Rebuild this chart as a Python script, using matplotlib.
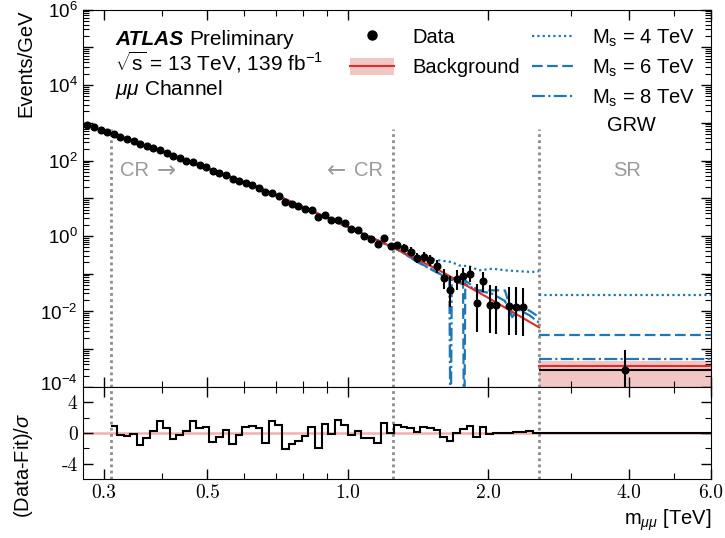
import numpy as np
import matplotlib.pyplot as plt
from matplotlib.lines import Line2D
from matplotlib.patches import Patch
from matplotlib.ticker import NullFormatter
from matplotlib.transforms import ScaledTranslation

plt.rcParams['font.family'] = ['Liberation Sans', 'DejaVu Sans']
plt.rcParams['mathtext.fontset'] = 'custom'
plt.rcParams['mathtext.rm'] = 'Liberation Sans'
plt.rcParams['mathtext.it'] = 'Liberation Sans:italic'
plt.rcParams['mathtext.bf'] = 'Liberation Sans:bold'

# ---- binning (TeV): 4 side bins below the CR + 65 log bins from 0.31 to 2.57
cr_lo, cr_hi, n_cr, n_below = 0.31, 2.57, 65, 4
cr_mid = 1.25
sr_edges = [2.57, 6.0]

# ---- data, Events/GeV per bin (nan = empty bin)
nan = np.nan
data_density = [870, 775, 630, 575,
                496, 426, 370, 323, 272, 239, 210, 186, 157, 131,
                114, 99.8, 89.5, 75.5, 65.3, 52.8, 46.2, 41.1, 32.6, 29.1,
                26.0, 22.3, 18.8, 14.3, 14.2, 11.7, 7.98, 7.03, 6.05, 5.33,
                4.94, 3.11, 3.61, 2.65, 2.67, 2.25, 1.58, 1.41, 1.00, 0.83,
                0.60, 0.87, 0.54, 0.575, 0.490, 0.384, 0.262, 0.275, 0.225, 0.158,
                0.0766, 0.0371, 0.0718, 0.0870, 0.101, 0.0163, 0.0631, 0.0153, 0.0148, nan,
                0.0139, 0.0134, 0.0130, nan, nan]
# error bar ends for the last 25 bins (the rest are hidden by the markers)
err_lo = [0.48, 0.72, 0.43, 0.46, 0.389, 0.291, 0.188, 0.199, 0.157, 0.103,
          0.040, 0.0132, 0.0375, 0.0494, 0.0609, 0.00282, 0.0330, 0.00264, 0.00256, nan,
          0.00240, 0.00232, 0.00224, nan, nan]
err_hi = [0.74, 1.03, 0.67, 0.70, 0.620, 0.499, 0.360, 0.374, 0.315, 0.236,
          0.137, 0.0861, 0.1286, 0.1458, 0.1613, 0.0537, 0.1129, 0.0504, 0.0488, nan,
          0.0457, 0.0442, 0.0428, nan, nan]

# ---- background fit
bkg_mass = [0.31, 0.40, 0.50, 0.566, 0.65, 0.80, 0.963, 1.25, 1.57, 2.00, 2.57]
bkg_val = [520, 174, 62, 35.4, 18.2, 5.9, 2.13, 0.50, 0.123, 0.0229, 3.78e-3]

# ---- GRW signal + background above 1.3 TeV (follows background below)
sig4_mass = [1.30, 1.37, 1.45, 1.57, 1.67, 1.73, 1.82, 1.91, 2.04, 2.18, 2.32, 2.48, 2.57]
sig4_val = [0.389, 0.316, 0.269, 0.226, 0.204, 0.166, 0.158, 0.123, 0.136, 0.123, 0.117, 0.111, 0.117]
sig6_mass = [1.30, 1.40, 1.50, 1.60, 1.70, 1.765, 1.775, 1.785, 1.90, 2.03, 2.17, 2.25, 2.32, 2.45, 2.57]
sig6_val = [0.389, 0.219, 0.138, 0.0891, 0.0631, 0.0525, 1e-6, 0.0661, 0.0363, 0.0363, 0.0363,
            0.00891, 0.0141, 0.0105, 0.00708]
sig8_mass = [1.30, 1.40, 1.50, 1.60, 1.65, 1.66, 1.67, 1.80, 1.90, 2.03, 2.17, 2.25, 2.32, 2.45, 2.57]
sig8_val = [0.389, 0.214, 0.135, 0.0891, 0.0759, 1e-6, 0.0708, 0.0501, 0.0355, 0.0302, 0.0191,
            0.00708, 0.0112, 0.00794, 0.00501]

# ---- signal region (single bin 2.57-6 TeV)
sr_data, sr_data_lo, sr_data_hi = 2.9e-4, 5.0e-5, 9.6e-4
sr_bkg, sr_bkg_lo, sr_bkg_hi = 3.5e-4, 5.0e-5, 5.0e-4
sr_sig = {4: 2.72e-2, 6: 2.43e-3, 8: 5.46e-4}

# ---- (Data-Fit)/sigma per CR bin, then the SR bin
resid = [0.85, -0.2, -0.4, -0.1, -1.6, -0.65, 0.2, 1.6, 0.65, -0.75,
         -0.3, 0.2, 1.5, 0.7, 0.75, -1.15, -0.55, 0.45, -1.4, -0.3,
         0.75, 0.85, 0.7, -1.3, 1.5, 1.05, -2.1, -1.4, -1.0, -0.4,
         0.8, -2.0, 1.2, -0.1, 1.7, 1.05, -0.3, 0.2, -0.65, -0.7,
         -1.3, 1.35, 0.0, 1.05, 0.75, 0.65, 0.15, 0.75, 0.7, 0.45,
         -0.5, -1.05, 0.0, 0.5, 0.95, -0.55, 0.75, -0.1, -0.05, 0.0,
         0.05, 0.1, 0.15, 0.2, 0.0]
sr_resid = 0.0

edges = cr_lo * (cr_hi / cr_lo) ** (np.arange(-n_below, n_cr + 1) / n_cr)
centers = np.sqrt(edges[:-1] * edges[1:])

red = '#e02b2b'
blue = '#1f77b4'
pink = '#f3c6c6'
gray = '#8c8c8c'
txt_gray = '#9a9a9a'
fs = 14.5
ls4, ls6, ls8 = (0, (1, 1.4)), (0, (4.8, 2)), (0, (5.8, 1.5, 1, 1.5))

fig = plt.figure(figsize=(7.25, 5.38), dpi=100)
ax = fig.add_axes([0.1138, 0.2807, 0.8669, 0.7016])
axr = fig.add_axes([0.1138, 0.1097, 0.8669, 0.1710], sharex=ax)

# background + signals
low = [i for i, m in enumerate(bkg_mass) if m < 1.3]
base_m = [bkg_mass[i] for i in low]
base_v = [bkg_val[i] for i in low]
ax.plot(base_m + sig4_mass, base_v + sig4_val, color=blue, lw=1.6, ls=ls4, zorder=3)
ax.plot(base_m + sig6_mass, base_v + sig6_val, color=blue, lw=1.6, ls=ls6, zorder=3)
ax.plot(base_m + sig8_mass, base_v + sig8_val, color=blue, lw=1.6, ls=ls8, zorder=3)
ax.plot(bkg_mass, bkg_val, color=red, lw=1.5, zorder=4)

# signal region
ax.fill_between(sr_edges, sr_bkg_lo, sr_bkg_hi, color=pink, lw=0, zorder=1)
ax.plot(sr_edges, [sr_bkg] * 2, color=red, lw=1.5, zorder=4)
ax.plot(sr_edges, [sr_sig[4]] * 2, color=blue, lw=1.6, ls=ls4, zorder=3)
ax.plot(sr_edges, [sr_sig[6]] * 2, color=blue, lw=1.6, ls=ls6, zorder=3)
ax.plot(sr_edges, [sr_sig[8]] * 2, color=blue, lw=1.6, ls=ls8, zorder=3)

# data
ax.plot(centers, data_density, 'o', color='k', ms=4.8, zorder=5)
ax.vlines(centers[-len(err_lo):], err_lo, err_hi, color='k', lw=1.5, zorder=5)
sr_c = np.sqrt(sr_edges[0] * sr_edges[1])
ax.errorbar([sr_c], [sr_data], xerr=[[sr_c - sr_edges[0]], [sr_edges[1] - sr_c]],
            yerr=[[sr_data - sr_data_lo], [sr_data_hi - sr_data]],
            fmt='o', color='k', ms=4.8, lw=1.5, capsize=0, zorder=5)

# region boundaries
for xb in [cr_lo, cr_mid, sr_edges[0]]:
    ax.plot([xb, xb], [1e-4, 7e2], color=gray, lw=2, ls=(0, (1, 1.2)), zorder=2)
    axr.axvline(xb, color=gray, lw=2, ls=(0, (1, 1.2)), zorder=2)

ax.set_xscale('log')
ax.set_yscale('log')
ax.set_xlim(0.27, 6.0)
ax.set_ylim(1e-4, 1e6)

exps = np.arange(-4, 7)
ax.set_yticks(10.0 ** exps)
ax.set_yticklabels([r'$10^{%d}$' % e if e % 2 == 0 else '' for e in exps], fontsize=13.5)
ax.set_yticks([s * 10.0 ** e for e in exps[:-1] for s in range(2, 10)], minor=True)
ax.yaxis.set_minor_formatter(NullFormatter())

xt = [0.3, 0.5, 1.0, 2.0, 4.0, 6.0]
ax.set_xticks(xt)
ax.set_xticks([0.4, 0.6, 0.7, 0.8, 0.9, 3.0, 5.0], minor=True)
ax.xaxis.set_minor_formatter(NullFormatter())
ax.tick_params(axis='x', labelbottom=False)

for a in (ax, axr):
    a.tick_params(which='both', direction='in', top=True, right=True)
    a.tick_params(which='major', length=7, width=1)
    a.tick_params(which='minor', length=4, width=0.8)

ax.set_ylabel('Events/GeV', fontsize=fs, loc='top')
ax.yaxis.set_label_coords(-0.075, 1.0)

# text
ax.text(0.0517, 0.9055, 'ATLAS', transform=ax.transAxes, fontsize=fs + 0.5,
        fontweight='bold', fontstyle='italic', va='baseline')
ax.text(0.1695, 0.9055, 'Preliminary', transform=ax.transAxes, fontsize=fs + 0.5, va='baseline')
ax.text(0.0517, 0.839, r'$\sqrt{\mathrm{s}}$ = 13 TeV, 139 fb$^{\mathrm{-1}}$', transform=ax.transAxes,
        fontsize=fs + 0.5, va='baseline')
ax.text(0.0517, 0.7735, r'$\mu\mu$ Channel', transform=ax.transAxes, fontsize=fs + 0.5, va='baseline')

ax.text(0.0597, 0.5726, 'CR', transform=ax.transAxes, fontsize=fs, color=txt_gray,
        va='center', ha='left')
ax.text(0.1185, 0.5726, '\u2192', transform=ax.transAxes, fontsize=fs + 2, color=txt_gray,
        va='center', ha='left', family='DejaVu Sans')
ax.text(0.4200, 0.5726, '\u2190', transform=ax.transAxes, fontsize=fs + 2, color=txt_gray,
        va='center', ha='right', family='DejaVu Sans')
ax.text(0.4776, 0.5726, 'CR', transform=ax.transAxes, fontsize=fs, color=txt_gray,
        va='center', ha='right')
ax.text(0.8664, 0.5726, 'SR', transform=ax.transAxes, fontsize=fs, color=txt_gray,
        va='center', ha='center')

# legends
h_data = Line2D([], [], marker='o', color='k', ls='none', ms=6.5)
h_bkg = (Patch(facecolor=pink, edgecolor='none'), Line2D([], [], color=red, lw=1.5))
leg1 = ax.legend([h_data, h_bkg], ['Data', 'Background'], loc='upper left',
                 bbox_to_anchor=(0.4256, 0.952), frameon=False, fontsize=fs,
                 handlelength=2.2, handleheight=0.9, handletextpad=0.88,
                 labelspacing=0.55, borderpad=0, borderaxespad=0)
ax.add_artist(leg1)
h4 = Line2D([], [], color=blue, lw=1.6, ls=ls4)
h6 = Line2D([], [], color=blue, lw=1.6, ls=ls6)
h8 = Line2D([], [], color=blue, lw=1.6, ls=ls8)
ax.legend([h4, h6, h8], [r'M$_{\mathrm{s}}$ = 4 TeV', r'M$_{\mathrm{s}}$ = 6 TeV', r'M$_{\mathrm{s}}$ = 8 TeV'],
          loc='upper left', bbox_to_anchor=(0.7147, 0.952), frameon=False, fontsize=fs,
          handlelength=2.05, handleheight=0.9, handletextpad=0.95,
          labelspacing=0.43, borderpad=0, borderaxespad=0)
ax.text(0.8727, 0.679, 'GRW', transform=ax.transAxes, fontsize=fs, ha='center', va='baseline')

# ratio panel
axr.axhline(0, color='#f4b0b0', lw=1.8, zorder=1)
axr.stairs(resid + [sr_resid], list(edges[n_below:]) + [sr_edges[1]], baseline=None,
           color='k', lw=1.5, zorder=3)
axr.set_ylim(-6, 6)
axr.set_yticks([-4, 0, 4])
axr.set_yticks([-2, 2], minor=True)
axr.set_yticklabels(['-4', '0', '4'], fontsize=14, family='cmr10')
axr.set_xticks(xt)
axr.set_xticks([0.4, 0.6, 0.7, 0.8, 0.9, 3.0, 5.0], minor=True)
axr.set_xticklabels(['0.3', '0.5', '1.0', '2.0', '4.0', '6.0'], fontsize=14, family='cmr10')
axr.xaxis.set_minor_formatter(NullFormatter())
axr.set_xlim(0.27, 6.0)
axr.set_ylabel(r'(Data-Fit)/$\sigma$', fontsize=fs)
axr.yaxis.set_label_coords(-0.075, 0.15)
axr.set_xlabel(r'm$_{\mu\mu}$ [TeV]', fontsize=fs, loc='right')

# lift the lowest main-panel label a little so it clears the ratio panel's "4"
bottom_lab = ax.get_yticklabels()[0]
bottom_lab.set_transform(bottom_lab.get_transform() + ScaledTranslation(0, 3 / 72, fig.dpi_scale_trans))

fig.savefig('out.png', dpi=100)
